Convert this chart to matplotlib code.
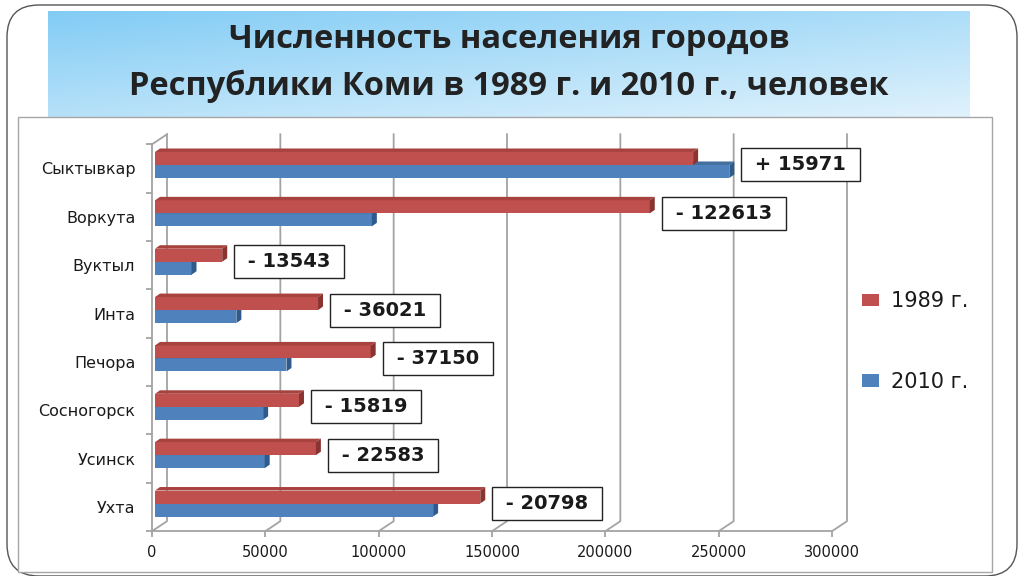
import numpy as np
import matplotlib
matplotlib.use('Agg')
import matplotlib.pyplot as plt
from matplotlib.patches import FancyBboxPatch, Rectangle, Polygon

# ── Data ──────────────────────────────────────────────────────
cities   = ['Сыктывкар', 'Воркута', 'Вуктыл', 'Инта',
            'Печора', 'Сосногорск', 'Усинск', 'Ухта']
pop_1989 = [237402, 218286, 29650, 71921, 95150, 63519, 70983, 143498]
pop_2010 = [253373, 95673, 16107, 35900, 58000, 47700, 48400, 122700]
changes  = [15971, -122613, -13543, -36021, -37150, -15819, -22583, -20798]
x_ticks  = [0, 50000, 100000, 150000, 200000, 250000, 300000]
series   = ['1989 г.', '2010 г.']

# ── Colours ───────────────────────────────────────────────────
RED, RED_TOP, RED_SIDE = '#c0504d', '#a8423f', '#8a3431'
BLUE, BLUE_TOP, BLUE_SIDE = '#4f81bd', '#41709f', '#2f5b8c'
GRID = '#a3a3a3'
DARK = '#1a1a1a'

fig = plt.figure(figsize=(10.24, 5.76), dpi=100)

# ── Slide background (pixel coords) ───────────────────────────
bg = fig.add_axes([0, 0, 1, 1])
bg.set_xlim(0, 1024); bg.set_ylim(576, 0); bg.axis('off')

gy, gx = np.mgrid[0:1:120j, 0:1:400j]
t = np.clip(0.55 * gy + 0.45 * gx, 0, 1)[..., None]
c0 = np.array([0.51, 0.80, 0.96]); c1 = np.array([0.88, 0.95, 0.99])
bg.imshow(c0 + (c1 - c0) * t, extent=(48, 970, 117, 11), aspect='auto', zorder=1)

bg.add_patch(FancyBboxPatch((7, 5), 1010, 571, boxstyle='round,pad=0,rounding_size=32',
                            fill=False, ec='#555555', lw=1.0, zorder=2))
bg.add_patch(Rectangle((18, 117), 974, 455, fc='white', ec='#a6a6a6', lw=1.0, zorder=2))

bg.text(509, 40, 'Численность населения городов', ha='center', va='center',
        fontsize=23.5, fontweight='bold', family='Open Sans', color='#222222', zorder=3)
bg.text(509, 86, 'Республики Коми в 1989 г. и 2010 г., человек', ha='center', va='center',
        fontsize=23.5, fontweight='bold', family='Open Sans', color='#222222', zorder=3)

# ── Chart axes (front plane) ──────────────────────────────────
top_px, bot_px = 144.3, 531.2
ax = fig.add_axes([152 / 1024, 1 - bot_px / 576, 680 / 1024, (bot_px - top_px) / 576])
ax.set_xlim(0, 300000)
ax.set_ylim(7.5, -0.5)
ax.patch.set_visible(False)

XPX = 300000 / 680            # data units per pixel (x)
YPX = 8 / (bot_px - top_px)   # category units per pixel (y)

# back wall offset, bar offset, bar depth
DXB, DYB = 15 * XPX, -10 * YPX
OX, OY = 3 * XPX, -3.5 * YPX
DDX, DDY = 5 * XPX, -3.5 * YPX
h = 13 * YPX

ax.spines[['top', 'right']].set_visible(False)
for s in ['left', 'bottom']:
    ax.spines[s].set_color(GRID); ax.spines[s].set_linewidth(1.3)

ax.set_xticks(x_ticks)
ax.set_xticklabels([str(v) for v in x_ticks])
ax.tick_params(axis='x', length=4, width=1.3, color=GRID, pad=6,
               labelsize=10.5, labelcolor=DARK)
y = np.arange(len(cities))
ax.set_yticks(y)
ax.set_yticklabels(cities)
ax.set_yticks(np.arange(-0.5, len(cities), 1), minor=True)
ax.tick_params(axis='y', which='major', length=0, pad=12, labelsize=11.5, labelcolor=DARK)
ax.tick_params(axis='y', which='minor', length=4, width=1.3, color=GRID)

# back wall gridlines + floor slants
for v in x_ticks:
    ax.plot([v, v + DXB, v + DXB], [7.5, 7.5 + DYB, -0.5 + DYB],
            color=GRID, lw=1.3, clip_on=False, zorder=1)
ax.plot([0, DXB], [-0.5, -0.5 + DYB], color=GRID, lw=1.3, clip_on=False, zorder=1)

# ── Bars with 3D faces ────────────────────────────────────────
def faces(vals, ycen, top_c, side_c, z):
    for v, yc in zip(vals, ycen):
        t0, b0 = yc - h / 2, yc + h / 2
        ax.add_patch(Polygon([(OX, t0), (OX + v, t0), (OX + v + DDX, t0 + DDY), (OX + DDX, t0 + DDY)],
                             closed=True, fc=top_c, ec='none', zorder=z, clip_on=False))
        ax.add_patch(Polygon([(OX + v, t0), (OX + v, b0), (OX + v + DDX, b0 + DDY), (OX + v + DDX, t0 + DDY)],
                             closed=True, fc=side_c, ec='none', zorder=z, clip_on=False))

y_blue = y + OY + h / 2
y_red = y + OY - h / 2
b_blue = ax.barh(y_blue, pop_2010, height=h, left=OX, color=BLUE, zorder=3, label=series[1])
faces(pop_2010, y_blue, BLUE_TOP, BLUE_SIDE, 4)
b_red = ax.barh(y_red, pop_1989, height=h, left=OX, color=RED, zorder=5, label=series[0])
faces(pop_1989, y_red, RED_TOP, RED_SIDE, 6)

# ── Change labels ─────────────────────────────────────────────
for i, d in enumerate(changes):
    end = max(pop_1989[i], pop_2010[i]) + OX + DDX
    txt = f' + {d} ' if d > 0 else f' - {abs(d)} '
    ax.annotate(txt, xy=(end, i + OY), xytext=(14, 0), textcoords='offset pixels',
                ha='left', va='center', fontsize=14, fontweight='bold', color=DARK,
                bbox=dict(boxstyle='square,pad=0.36', fc='white', ec='#222222', lw=1.0),
                zorder=8, annotation_clip=False)

# ── Legend ────────────────────────────────────────────────────
fig.legend([b_red, b_blue], series, loc='center left',
           bbox_to_anchor=(862 / 1024, 1 - 341.5 / 576), frameon=False,
           fontsize=15, labelspacing=2.9, handlelength=0.8, handleheight=0.55,
           handletextpad=0.6, borderpad=0, borderaxespad=0, labelcolor=DARK)

fig.savefig('out.png', dpi=100)
